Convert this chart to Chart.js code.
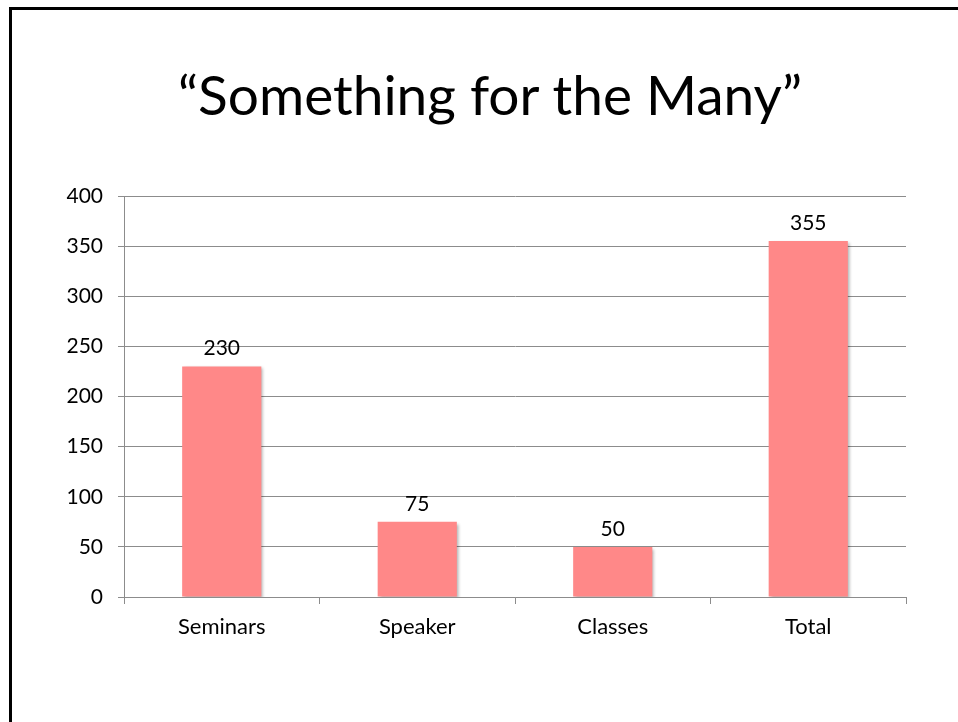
<!DOCTYPE html>
<html>
<head>
<meta charset="utf-8">
<script src="https://cdn.jsdelivr.net/npm/chart.js@4"></script>
<style>
  html, body { margin: 0; padding: 0; background: #fff; overflow: hidden; }
  #frame {
    position: absolute; left: 9px; top: 7px; width: 1000px; height: 1000px;
    border: 3px solid #000; box-sizing: border-box;
  }
  #title {
    position: absolute; left: 0; width: 980px; top: 61px; margin: 0;
    text-align: center; font-family: Lato, sans-serif; font-weight: normal;
    font-size: 55px; color: #000;
  }
  #wrap { position: absolute; left: 0; top: 0; width: 958px; height: 722px; }
</style>
</head>
<body>
<div id="frame"></div>
<h1 id="title">“Something for the Many”</h1>
<div id="wrap"><canvas id="chart"></canvas></div>
<script>
// chart data
const categories = ['Seminars', 'Speaker', 'Classes', 'Total'];
const counts = [230, 75, 50, 355];
const yTicks = [0, 50, 100, 150, 200, 250, 300, 350, 400];

const barColor = '#ff8888';
const gridColor = '#8c8c8c';

// numbers above the bars
const valueLabels = {
  id: 'valueLabels',
  afterDatasetsDraw(chart) {
    const ctx = chart.ctx;
    const meta = chart.getDatasetMeta(0);
    ctx.save();
    ctx.font = '21px Lato';
    ctx.fillStyle = '#000';
    ctx.textAlign = 'center';
    ctx.textBaseline = 'alphabetic';
    meta.data.forEach((bar, i) => {
      ctx.fillText(counts[i], bar.x, bar.y - 11);
    });
    ctx.restore();
  }
};

// soft shadow like the office chart
const barShadow = {
  id: 'barShadow',
  beforeDatasetDraw(chart) {
    const ctx = chart.ctx;
    ctx.save();
    ctx.shadowColor = 'rgba(0,0,0,0.3)';
    ctx.shadowOffsetX = 2;
    ctx.shadowOffsetY = 2;
    ctx.shadowBlur = 3;
  },
  afterDatasetDraw(chart) {
    chart.ctx.restore();
  }
};

new Chart(document.getElementById('chart'), {
  type: 'bar',
  data: {
    labels: categories,
    datasets: [{
      data: counts,
      backgroundColor: barColor,
      borderWidth: 0,
      categoryPercentage: 1,
      barPercentage: 0.405
    }]
  },
  options: {
    responsive: true,
    maintainAspectRatio: false,
    animation: false,
    layout: { padding: { left: 0, right: 52, top: 196, bottom: 65 } },
    plugins: { legend: { display: false }, tooltip: { enabled: false } },
    scales: {
      x: {
        grid: { drawOnChartArea: false, drawTicks: true, tickLength: 7, color: gridColor, offset: true },
        border: { color: gridColor },
        ticks: { color: '#000', font: { family: 'Lato', size: 22 }, padding: 10 },
        afterFit(scale) { scale.height = 60; }
      },
      y: {
        min: 0,
        max: 400,
        afterBuildTicks(scale) { scale.ticks = yTicks.map(v => ({ value: v })); },
        grid: { color: gridColor, tickLength: 6 },
        border: { color: gridColor },
        ticks: { color: '#000', font: { family: 'Lato', size: 21 }, padding: 15 },
        afterFit(scale) { scale.width = 124; }
      }
    }
  },
  plugins: [barShadow, valueLabels]
});
</script>
</body>
</html>
